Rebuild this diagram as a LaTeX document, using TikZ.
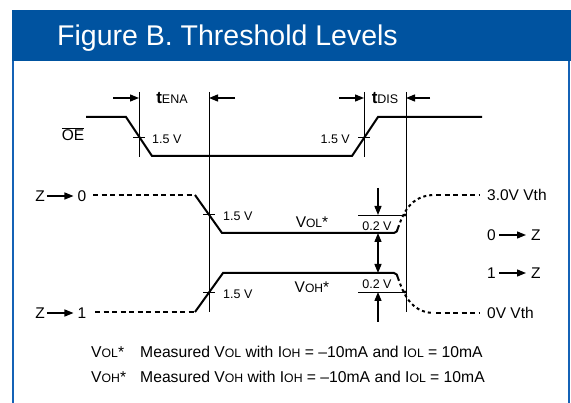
\documentclass[tikz,border=0pt]{standalone}
\usepackage{fontspec}
\usepackage{graphicx}
\setmainfont{Liberation Sans}
\usetikzlibrary{arrows.meta}
\definecolor{hdrblue}{RGB}{0,83,160}
\definecolor{frameblue}{RGB}{20,98,182}
\newcommand{\sbx}[1]{\scalebox{0.78}{#1}}
\begin{document}
\begin{tikzpicture}[x=1pt,y=-1pt,
  sig/.style={line width=2pt, line join=miter},
  dotline/.style={line width=2pt, dash pattern=on 5pt off 3.5pt},
  dotcurve/.style={line width=2pt, dash pattern=on 3pt off 3pt},
  thinline/.style={line width=0.8pt},
  arr/.style={line width=1.3pt, -{Triangle[length=9pt,width=7pt]}},
  dblarr/.style={line width=1.3pt, {Triangle[length=9pt,width=7pt]}-{Triangle[length=9pt,width=7pt]}},
  lbl/.style={font=\fontsize{15.5}{17}\selectfont, inner sep=0pt},
  smalllbl/.style={font=\fontsize{12.5}{14}\selectfont, inner sep=0pt},
  foot/.style={font=\fontsize{15.7}{18}\selectfont, inner sep=0pt, anchor=base west},
]
\useasboundingbox (0,0) rectangle (571,403);
% header and frame
\fill[hdrblue] (12,10) rectangle (571,61);
\node[anchor=base west, text=white, font=\fontsize{28.5}{30}\selectfont, inner sep=0pt] (title) at (57,46) {Figure B. Threshold Levels};
\draw[frameblue, line width=2pt] (13,61) -- (13,403);
\draw[frameblue, line width=2pt] (569,61) -- (569,403);

% OE signal
\node[lbl] (oe) at (73,134) {$\overline{\hbox{OE}}$};
\draw[sig] (86,117) -- (126,117) -- (152,156) -- (352,156) -- (378,117) -- (482,117);

% vertical reference lines
\draw[thinline] (139,92) -- (139,157);
\draw[thinline] (209,92) -- (209,312);
\draw[thinline] (364,92) -- (364,157);
\draw[thinline] (406,92) -- (406,312);

% 1.5 V ticks
\draw[thinline] (133,137) -- (145,137);
\draw[thinline] (358,137) -- (370,137);
\draw[thinline] (203,214) -- (215,214);
\draw[thinline] (203,292) -- (215,292);
\node[smalllbl, anchor=west] (v1) at (152,139) {1.5 V};
\node[smalllbl, anchor=east] (v2) at (350,139) {1.5 V};
\node[smalllbl, anchor=west] (v3) at (223,216) {1.5 V};
\node[smalllbl, anchor=west] (v4) at (223,294) {1.5 V};

% timing arrows
\node[inner sep=0pt] (tena) at (172,98) {{\fontsize{17}{18}\selectfont\bfseries t}{\fontsize{12.5}{14}\selectfont ENA}};
\node[inner sep=0pt] (tdis) at (385,98) {{\fontsize{17}{18}\selectfont\bfseries t}{\fontsize{12.5}{14}\selectfont DIS}};
\draw[arr] (113,98) -- (139,98);
\draw[arr] (235,98) -- (209,98);
\draw[arr] (339,98) -- (364,98);
\draw[arr] (430,98) -- (406,98);

% Z -> 0
\node[lbl] (za) at (40,196) {Z};
\node[lbl] (z0) at (82,196) {0};
\draw[arr] (za.east) ++(2,0) -- ([xshift=-4pt]z0.west);
\draw[dotline] (93,195) -- (195,195);
\draw[sig] (195,195) -- (222,233) -- (394,233) to[out=0,in=-100] (398,228);
\draw[dotcurve] (398,228) .. controls (403,214) and (410,196) .. (433,195);
\draw[dotline] (436,195) -- (480,195);

% Z -> 1
\node[lbl] (zb) at (40,313) {Z};
\node[lbl] (z1) at (82,313) {1};
\draw[arr] (zb.east) ++(2,0) -- ([xshift=-4pt]z1.west);
\draw[dotline] (95,312) -- (195,312);
\draw[sig] (195,312) -- (223,273) -- (394,273) to[out=0,in=100] (398,278);
\draw[dotcurve] (398,278) .. controls (403,292) and (410,312) .. (433,313);
\draw[dotline] (436,313) -- (480,313);

% 0.2 V levels
\draw[thinline] (358,215) -- (407,215);
\draw[thinline] (358,292) -- (407,292);
\fill (405,215) circle (1.6);
\fill (405,292) circle (1.6);
\node[smalllbl] (d1) at (377,226) {0.2 V};
\node[smalllbl] (d2) at (377,284) {0.2 V};
\draw[arr] (378,188) -- (378,215);
\draw[dblarr] (378,233) -- (378,273);
\draw[arr] (378,322) -- (378,292);

% level labels
\node[lbl] (vol) at (312,222) {V\sbx{OL}*};
\node[lbl] (voh) at (312,287) {V\sbx{OH}*};

% right labels
\node[lbl, anchor=west] (vth3) at (487,195) {3.0V Vth};
\node[lbl, anchor=west] (vth0) at (487,313) {0V Vth};
\node[lbl, anchor=west] (ra0) at (487,235) {0};
\node[lbl, anchor=west] (raz) at (531,235) {Z};
\draw[arr] ([xshift=3pt]ra0.east) -- ([xshift=-5pt]raz.west);
\node[lbl, anchor=west] (rb1) at (487,273) {1};
\node[lbl, anchor=west] (rbz) at (531,273) {Z};
\draw[arr] ([xshift=3pt]rb1.east) -- ([xshift=-5pt]rbz.west);

% footnotes
\node[foot] (f1a) at (91,358) {V\sbx{OL}*};
\node[foot] (f1b) at (140,358) {Measured V\sbx{OL} with I\sbx{OH} = –10mA and I\sbx{OL} = 10mA};
\node[foot] (f2a) at (91,383) {V\sbx{OH}*};
\node[foot] (f2b) at (140,383) {Measured V\sbx{OH} with I\sbx{OH} = –10mA and I\sbx{OL} = 10mA};
\end{tikzpicture}
\end{document}
